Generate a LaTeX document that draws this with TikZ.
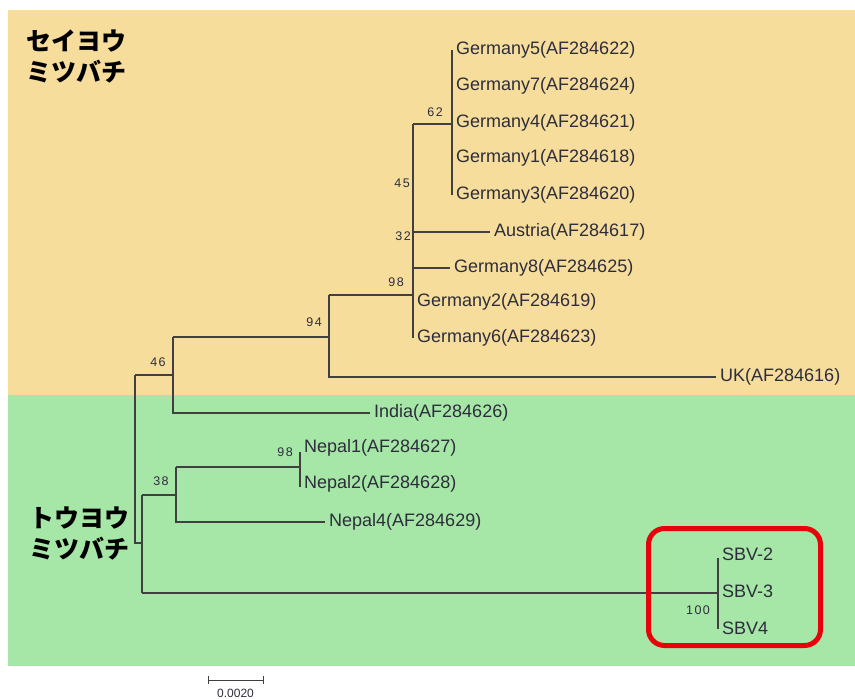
\documentclass[tikz,border=0pt]{standalone}
\usepackage{fontspec}
\setmainfont{Liberation Sans}
\newfontfamily\bsfont{Liberation Sans}[LetterSpace=12]
\newfontfamily\jpfont{Noto Sans CJK JP}
\definecolor{tan}{RGB}{247,221,156}
\definecolor{grn}{RGB}{166,230,166}
\definecolor{branch}{RGB}{64,64,64}
\definecolor{txt}{RGB}{45,45,60}
\definecolor{redbox}{RGB}{232,0,10}
\tikzset{
  br/.style={draw=branch, line width=1.2pt},
  taxon/.style={anchor=west, inner xsep=4pt, inner ysep=0pt, text=txt, font=\fontsize{18}{20}\selectfont},
  bs/.style={inner sep=0pt, text=txt, font=\bsfont\fontsize{12.5}{14}\selectfont},
  jp/.style={anchor=west, align=left, inner sep=0pt, font=\jpfont\bfseries\fontsize{25}{31}\selectfont, text=black}
}
\begin{document}
\begin{tikzpicture}[x=1pt,y=-1pt]
\useasboundingbox (0,0) rectangle (855,699);
\clip (0,0) rectangle (855,699);
\fill[white] (0,0) rectangle (855,699);
\fill[tan] (8,10) rectangle (855,395);
\fill[grn] (8,395) rectangle (855,666);

% labels of groups
\node[jp] (west) at (26,57) {セイヨウ\\ミツバチ};
\node[jp] (east) at (29,534) {トウヨウ\\ミツバチ};

% internal nodes
\coordinate (g62) at (452,124);
\coordinate (n45) at (413,124);
\coordinate (n32) at (413,232);
\coordinate (n98) at (413,295);
\coordinate (n94) at (329,295);
\coordinate (n46) at (173,337);
\coordinate (root) at (135,375);
\coordinate (n2) at (142,543);
\coordinate (n38) at (176,495);
\coordinate (np) at (300,467);
\coordinate (sbv) at (718,593);

% leaves
\node[taxon] (G5) at (452,50) {Germany5(AF284622)};
\node[taxon] (G7) at (452,86) {Germany7(AF284624)};
\node[taxon] (G4) at (452,123) {Germany4(AF284621)};
\node[taxon] (G1) at (452,158) {Germany1(AF284618)};
\node[taxon] (G3) at (452,195) {Germany3(AF284620)};
\node[taxon] (AU) at (490,232) {Austria(AF284617)};
\node[taxon] (G8) at (450,268) {Germany8(AF284625)};
\node[taxon] (G2) at (413,302) {Germany2(AF284619)};
\node[taxon] (G6) at (413,338) {Germany6(AF284623)};
\node[taxon] (UK) at (716,377) {UK(AF284616)};
\node[taxon] (IN) at (370,413) {India(AF284626)};
\node[taxon] (N1) at (300,448) {Nepal1(AF284627)};
\node[taxon] (N2) at (300,484) {Nepal2(AF284628)};
\node[taxon] (N4) at (325,522) {Nepal4(AF284629)};
\node[taxon] (S2) at (718,554) {SBV-2};
\node[taxon] (S3) at (718,591) {SBV-3};
\node[taxon] (S4) at (718,628) {SBV4};

% branches
\draw[br] (G5.west) -- (G3.west);
\draw[br] (n45) -- (g62);
\draw[br] (n45) -- (G6.west);
\draw[br] (413,250) -- (413,305) [line width=2.4pt];
\draw[br] (n32) -- (AU.west);
\draw[br] (n32 |- G8) -- (G8.west);
\draw[br] (n94) -- (n98);
\draw[br] (n94) |- (UK.west);
\draw[br] (n46) -- (n46 -| n94);
\draw[br] (n46) |- (IN.west);
\draw[br] (root) -- (root -| n46);
\draw[br] (root) |- (n2);
\draw[br] (n2 |- n38) -- (n2 |- sbv);
\draw[br] (n2 |- n38) -- (n38);
\draw[br] (n2 |- sbv) -- (sbv);
\draw[br] (n38 |- np) -- (np);
\draw[br] (n38 |- np) |- (N4.west);
\draw[br] (np |- 0,452) -- (np |- 0,487);
\draw[br] (sbv |- 0,558) -- (sbv |- 0,629);

% bootstrap values
\node[bs] (b62) at (435,112) {62};
\node[bs] (b45) at (402,183) {45};
\node[bs] (b32) at (403,236) {32};
\node[bs] (b98) at (396,282) {98};
\node[bs] (b94) at (314,322) {94};
\node[bs] (b46) at (158,362) {46};
\node[bs] (b38) at (161,481) {38};
\node[bs] (b98n) at (285,452) {98};
\node[bs] (b100) at (698,610) {100};

% highlight box
\node[draw=redbox, line width=5pt, rounded corners=16pt, minimum width=172pt, minimum height=117pt, inner sep=0pt] (hl) at (734.5,587) {};

% scale bar
\coordinate (sl) at (208,680);
\coordinate (sr) at (263,680);
\draw[br, line width=1pt] (sl) -- (sr);
\draw[br, line width=1pt] ([yshift=-4pt]sl) -- ([yshift=4pt]sl);
\draw[br, line width=1pt] ([yshift=-4pt]sr) -- ([yshift=4pt]sr);
\node[bs, anchor=south, font=\fontsize{12}{13}\selectfont] (scl) at (235.5,698) {0.0020};
\end{tikzpicture}
\end{document}
